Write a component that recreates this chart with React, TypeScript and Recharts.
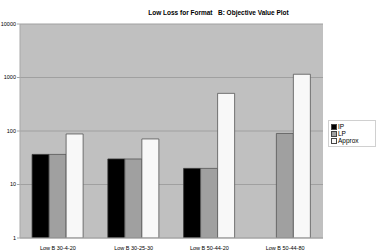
import { BarChart, Bar, XAxis, YAxis, CartesianGrid } from 'recharts';

const categories = ['Low B 30-4-20', 'Low B 30-25-30', 'Low B 50-44-20', 'Low B 50-44-80'];
const ipValues: (number | null)[] = [36.5, 30, 20, null];
const lpValues: (number | null)[] = [36.5, 30, 20, 90];
const approxValues: (number | null)[] = [88, 71, 505, 1150];
const yTicks = [1, 10, 100, 1000, 10000];

const data = categories.map((name, i) => ({
  name,
  IP: ipValues[i],
  LP: lpValues[i],
  Approx: approxValues[i],
}));

const seriesColors = {
  IP: '#000000',
  LP: '#a0a0a0',
  Approx: '#f8f8f8',
};

const font = '"Liberation Sans", Arial, sans-serif';

// legend box like the old spreadsheet style
const LegendBox = () => (
  <div
    style={{
      position: 'absolute',
      left: 328,
      top: 120,
      width: 42,
      border: '1px solid #d0d0d0',
      padding: '2px 2px',
      fontFamily: font,
      fontSize: 6.5,
      color: '#000',
      lineHeight: '7px',
    }}
  >
    {(['IP', 'LP', 'Approx'] as const).map((k) => (
      <div key={k} style={{ display: 'flex', alignItems: 'center' }}>
        <span
          style={{
            display: 'inline-block',
            width: 4,
            height: 4,
            background: seriesColors[k],
            border: '1px solid #444',
            marginRight: 1,
          }}
        />
        {k}
      </div>
    ))}
  </div>
);

export default function App() {
  return (
    <div style={{ position: 'absolute', left: 0, top: 0, width: 379, height: 251, background: '#fff' }}>
      <div
        style={{
          position: 'absolute',
          left: 0,
          width: 437,
          top: 9,
          textAlign: 'center',
          fontFamily: font,
          fontWeight: 'bold',
          fontSize: 6.5,
          whiteSpace: 'pre',
        }}
      >
        {'Low Loss for Format   B: Objective Value Plot'}
      </div>
      <BarChart
        width={379}
        height={251}
        data={data}
        margin={{ top: 24, right: 56, bottom: 0, left: 0 }}
        barCategoryGap="16%"
        barGap={0}
      >
        <CartesianGrid
          vertical={false}
          fill="#c0c0c0"
          stroke="#a0a0a0"
          strokeOpacity={1}
        />
        <XAxis
          dataKey="name"
          height={13}
          stroke="#a8a8a8"
          tickLine={false}
          tickMargin={2}
          interval={0}
          tick={{ fontSize: 5.5, fill: '#000', fontFamily: font }}
        />
        <YAxis
          scale="log"
          domain={[1, 10000]}
          ticks={yTicks}
          allowDataOverflow
          width={20}
          stroke="#a8a8a8"
          tickSize={3}
          tickMargin={1}
          tick={{ fontSize: 5.5, fill: '#000', fontFamily: font }}
        />
        <YAxis
          yAxisId="right"
          orientation="right"
          width={0}
          tick={false}
          tickLine={false}
          stroke="#b0b0b0"
        />
        <Bar dataKey="IP" fill={seriesColors.IP} stroke="#333" strokeWidth={0.8} isAnimationActive={false} />
        <Bar dataKey="LP" fill={seriesColors.LP} stroke="#555" strokeWidth={0.8} isAnimationActive={false} />
        <Bar dataKey="Approx" fill={seriesColors.Approx} stroke="#555" strokeWidth={0.8} isAnimationActive={false} />
      </BarChart>
      <LegendBox />
    </div>
  );
}
